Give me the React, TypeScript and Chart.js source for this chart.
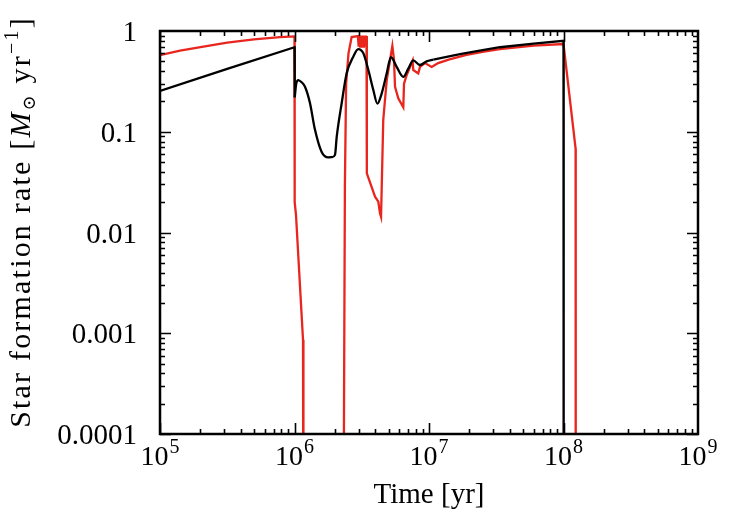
import { useEffect, useRef } from "react";
import { Chart, registerables } from "chart.js";

Chart.register(...registerables);

// Axis decades and labels
const X_DECADES = [1e5, 1e6, 1e7, 1e8, 1e9];
const X_EXPONENTS = ["5", "6", "7", "8", "9"];
const Y_DECADES = [1, 0.1, 0.01, 0.001, 0.0001];
const Y_LABELS = ["1", "0.1", "0.01", "0.001", "0.0001"];

// Black run: time [yr] and star formation rate [Msun/yr]
const timeBlack = [
  1e5, 3.16e5, 1e6, 1.004e6, 1.03e6, 1.067e6, 1.13e6, 1.197e6, 1.303e6, 1.419e6,
  1.592e6, 1.782e6, 1.9e6, 2.0e6, 2.06e6, 2.244e6, 2.443e6, 2.735e6, 2.979e6,
  3.25e6, 3.54e6, 3.855e6, 4.13e6, 4.45e6, 4.85e6, 5.21e6, 5.75e6, 6.44e6, 7.0e6,
  7.64e6, 8.57e6, 9.6e6, 1.077e7, 1.7e7, 2.5e7, 3.37e7, 6e7, 1e8, 1.003e8,
];
const sfrBlack = [
  0.254, 0.42, 0.69, 0.22, 0.3, 0.326, 0.31, 0.28, 0.193, 0.105,
  0.063, 0.0557, 0.056, 0.059, 0.089, 0.193, 0.38, 0.556, 0.66,
  0.6, 0.41, 0.26, 0.19, 0.24, 0.38, 0.55, 0.44, 0.35, 0.42,
  0.51, 0.46, 0.5, 0.52, 0.59, 0.645, 0.69, 0.75, 0.8, 1e-6,
];
// index ranges of the black run: straight rise, smooth burst phase, late rise
const BLACK_BURST_START = 3;
const BLACK_BURST_END = 32;

// Red run
const timeRed = [
  1e5, 1.41e5, 2e5, 3.16e5, 5e5, 7.8e5, 1e6, 1.003e6, 1.026e6, 1.157e6, 1.165e6,
  2.31e6, 2.33e6, 2.37e6, 2.42e6, 2.52e6, 2.66e6, 2.96e6, 3.0e6, 3.04e6, 3.08e6,
  3.12e6, 3.16e6, 3.2e6, 3.24e6, 3.28e6, 3.32e6, 3.36e6, 3.4e6, 3.43e6, 3.45e6,
  3.97e6, 4.2e6, 4.32e6, 4.4e6, 4.57e6, 4.85e6, 5.34e6, 5.49e6, 5.59e6, 5.91e6,
  6.44e6, 6.52e6, 6.83e6, 7.56e6, 7.64e6, 8.32e6, 8.57e6, 9.33e6, 1.047e7, 1.17e7,
  1.4e7, 1.9e7, 2.5e7, 3.37e7, 6e7, 1e8, 1.23e8, 1.233e8,
];
const sfrRed = [
  0.575, 0.637, 0.69, 0.765, 0.825, 0.868, 0.885, 0.02, 0.0149, 0.00086, 1e-6,
  1e-6, 1e-4, 0.03, 0.3, 0.6, 0.87, 0.89, 0.7, 0.9, 0.7,
  0.9, 0.7, 0.9, 0.7, 0.9, 0.7, 0.9, 0.7, 0.89, 0.0387,
  0.0227, 0.0202, 0.0155, 0.0143, 0.131, 0.326, 0.71, 0.52, 0.28, 0.215,
  0.175, 0.3, 0.366, 0.51, 0.41, 0.38, 0.44, 0.48, 0.44, 0.48,
  0.52, 0.578, 0.622, 0.66, 0.715, 0.743, 0.068, 1e-6,
];

const RED = "#e8261e";
const SERIF = "'Liberation Serif', 'Times New Roman', serif";

const toPoints = (xs: number[], ys: number[], from = 0, to = xs.length - 1) =>
  xs.slice(from, to + 1).map((x, i) => ({ x, y: ys[from + i] }));

const framePlugin = {
  id: "frameAndLabels",
  afterDraw(chart: any) {
    const { ctx, chartArea } = chart;
    const { left, right, top, bottom } = chartArea;
    const xs = chart.scales.x;
    const ys = chart.scales.y;
    ctx.save();
    ctx.strokeStyle = "#000";
    ctx.fillStyle = "#000";

    // inward ticks on all four sides
    ctx.lineWidth = 1.6;
    ctx.beginPath();
    for (let e = 5; e <= 8; e++) {
      for (let m = 1; m <= 9; m++) {
        const px = Math.round(xs.getPixelForValue(m * Math.pow(10, e))) + 0.5;
        const len = m === 1 ? 11 : 5;
        ctx.moveTo(px, bottom);
        ctx.lineTo(px, bottom - len);
        ctx.moveTo(px, top);
        ctx.lineTo(px, top + len);
      }
    }
    for (let e = -4; e <= -1; e++) {
      for (let m = 1; m <= 9; m++) {
        const py = Math.round(ys.getPixelForValue(m * Math.pow(10, e))) + 0.5;
        const len = m === 1 ? 11 : 5;
        ctx.moveTo(left, py);
        ctx.lineTo(left + len, py);
        ctx.moveTo(right, py);
        ctx.lineTo(right - len, py);
      }
    }
    ctx.stroke();

    // frame
    ctx.lineWidth = 2.5;
    ctx.strokeRect(left, top, right - left, bottom - top);

    // x tick labels: 10^n
    ctx.textBaseline = "alphabetic";
    ctx.textAlign = "left";
    X_DECADES.forEach((v, i) => {
      const px = xs.getPixelForValue(v);
      ctx.font = `28px ${SERIF}`;
      const w1 = ctx.measureText("10").width;
      ctx.font = `20px ${SERIF}`;
      const w2 = ctx.measureText(X_EXPONENTS[i]).width;
      const x0 = px - (w1 + w2 + 1) / 2;
      ctx.font = `28px ${SERIF}`;
      ctx.fillText("10", x0, 465);
      ctx.font = `20px ${SERIF}`;
      ctx.fillText(X_EXPONENTS[i], x0 + w1 + 1, 453);
    });

    // y tick labels
    ctx.font = `29px ${SERIF}`;
    ctx.textAlign = "right";
    Y_DECADES.forEach((v, i) => {
      const py = ys.getPixelForValue(v);
      ctx.fillText(Y_LABELS[i], 137, py + 10);
    });

    // x axis title
    ctx.textAlign = "center";
    ctx.font = `29px ${SERIF}`;
    ctx.fillText("Time [yr]", (left + right) / 2, 503);

    // y axis title, rotated
    const parts = [
      { t: "Star formation rate [", f: `30px ${SERIF}`, dy: 0 },
      { t: "M", f: `italic 30px ${SERIF}`, dy: 0 },
      { t: "⊙", f: `18px 'DejaVu Serif', serif`, dy: 5 },
      { t: " yr", f: `30px ${SERIF}`, dy: 0 },
      { t: "−1", f: `20px ${SERIF}`, dy: -12 },
      { t: "]", f: `30px ${SERIF}`, dy: 0 },
    ];
    ctx.textAlign = "left";
    (ctx as any).letterSpacing = "2.2px";
    let total = 0;
    parts.forEach((p) => {
      ctx.font = p.f;
      total += ctx.measureText(p.t).width;
    });
    ctx.translate(30, 222);
    ctx.rotate(-Math.PI / 2);
    let x = -total / 2;
    parts.forEach((p) => {
      ctx.font = p.f;
      ctx.fillText(p.t, x, p.dy);
      x += ctx.measureText(p.t).width;
    });
    ctx.restore();
  },
};

export default function App() {
  const canvasRef = useRef<HTMLCanvasElement | null>(null);

  useEffect(() => {
    document.body.style.margin = "0";
    const canvas = canvasRef.current;
    if (!canvas) return;
    const blackStyle = { borderColor: "#000", borderWidth: 2.3, pointRadius: 0 };
    const chart = new Chart(canvas, {
      type: "line",
      data: {
        datasets: [
          {
            label: "black early",
            data: toPoints(timeBlack, sfrBlack, 0, BLACK_BURST_START),
            ...blackStyle,
            tension: 0,
          },
          {
            label: "black burst",
            data: toPoints(timeBlack, sfrBlack, BLACK_BURST_START, BLACK_BURST_END),
            ...blackStyle,
            cubicInterpolationMode: "monotone",
          },
          {
            label: "black late",
            data: toPoints(timeBlack, sfrBlack, BLACK_BURST_END),
            ...blackStyle,
            tension: 0,
          },
          {
            label: "red",
            data: toPoints(timeRed, sfrRed),
            borderColor: RED,
            borderWidth: 2.3,
            pointRadius: 0,
            tension: 0,
          },
        ],
      },
      options: {
        responsive: false,
        animation: false,
        devicePixelRatio: 1,
        layout: { padding: { left: 160, right: 47, top: 31, bottom: 85 } },
        plugins: { legend: { display: false }, tooltip: { enabled: false } },
        scales: {
          x: { type: "logarithmic", min: 1e5, max: 1e9, display: false },
          y: { type: "logarithmic", min: 1e-4, max: 1, display: false },
        },
      },
      plugins: [framePlugin],
    });
    return () => chart.destroy();
  }, []);

  return <canvas ref={canvasRef} width={745} height={519} style={{ display: "block", width: 745, height: 519 }} />;
}
